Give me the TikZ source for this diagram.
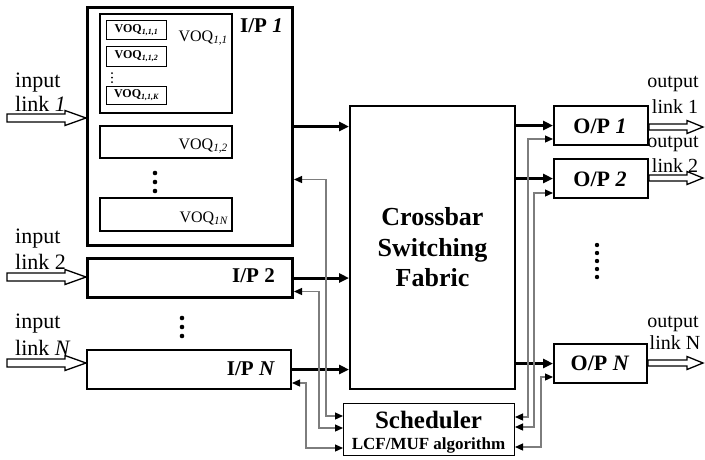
\documentclass[tikz,border=0pt]{standalone}
\usepackage{fontspec}
\setmainfont{Liberation Serif}
\usetikzlibrary{arrows.meta,calc}
\definecolor{ctlgray}{RGB}{125,125,125}

% wide hollow arrow of an external link:
% #1 start point (gives x and y), #2 point whose x is the tip,
% #3 head length, #4 shaft half-width, #5 head half-width
\newcommand\linkarrow[5]{%
  \draw[linkline] let \p1=(#1), \p2=(#2) in
    (\x1,\y1+#4) -- (\x2-#3,\y1+#4) -- (\x2-#3,\y1+#5) -- (\x2,\y1)
    -- (\x2-#3,\y1-#5) -- (\x2-#3,\y1-#4) -- (\x1,\y1-#4) -- cycle;}

\begin{document}
\begin{tikzpicture}[x=1pt,y=-1pt,
  box/.style={draw, rectangle, inner sep=0pt, anchor=north west},
  thickbox/.style={box, line width=3pt},
  midbox/.style={box, line width=2pt},
  thinbox/.style={box, line width=1pt},
  bus/.style={line width=3pt, -{Triangle[length=10pt,width=9pt]}},
  ctl/.style={ctlgray, line width=1.2pt,
    {Triangle[length=8pt,width=7pt,color=black]}-{Triangle[length=8pt,width=7pt,color=black]}},
  linkline/.style={draw=black, fill=white, line width=1.3pt, line join=miter},
  inlbl/.style={anchor=base west, inner sep=0pt, font=\fontsize{22}{26}\selectfont},
  outlbl/.style={anchor=base, inner sep=0pt, font=\fontsize{20}{24}\selectfont},
  iplbl/.style={anchor=base east, inner sep=0pt, font=\fontsize{21}{25}\selectfont\bfseries},
  oplbl/.style={anchor=base, inner sep=0pt, font=\fontsize{22}{26}\selectfont\bfseries},
  voqlbl/.style={anchor=base east, inner sep=0pt, font=\fontsize{16}{19}\selectfont},
  subvoq/.style={inner sep=0pt, font=\fontsize{12}{14}\selectfont\bfseries}]

\useasboundingbox (0,0) rectangle (705,459);

% ---------- input port 1 and its virtual output queues ----------
\node[thickbox, minimum width=205pt, minimum height=238pt] (ip1) at (86,6) {};
\node[iplbl] (ip1lbl) at (283,32) {I/P \textit{1}};

\node[midbox, minimum width=132pt, minimum height=99pt] (voq11) at (99,13) {};
\node[voqlbl] (voq11lbl) at (228,41) {VOQ\textsubscript{\itshape 1,1}};
\node[thinbox, minimum width=60pt, minimum height=19pt] (v111) at (106,20) {};
\node[subvoq] (v111lbl) at (v111.center) {VOQ\textsubscript{\itshape 1,1,1}};
\node[thinbox, minimum width=60pt, minimum height=20pt] (v112) at (106,46) {};
\node[subvoq] (v112lbl) at (v112.center) {VOQ\textsubscript{\itshape 1,1,2}};
\foreach \yy in {73,77.5,82} \fill (112,\yy) circle (1pt);
\node[thinbox, minimum width=60pt, minimum height=18pt] (v11k) at (106,86) {};
\node[subvoq] (v11klbl) at (v11k.center) {VOQ\textsubscript{\itshape 1,1,K}};

\node[midbox, minimum width=132pt, minimum height=32pt] (voq12) at (99,125) {};
\node[voqlbl] (voq12lbl) at (228,149) {VOQ\textsubscript{\itshape 1,2}};
\foreach \yy in {173,182,191} \fill (155,\yy) circle (2.3pt);
\node[midbox, minimum width=132pt, minimum height=33pt] (voq1n) at (99,197) {};
\node[voqlbl] (voq1nlbl) at (228,222) {VOQ\textsubscript{\itshape 1N}};

% ---------- input ports 2 .. N ----------
\node[thickbox, minimum width=205pt, minimum height=39pt] (ip2) at (86,257) {};
\node[iplbl] (ip2lbl) at (275,282) {I/P 2};
\foreach \yy in {318,327,336} \fill (182,\yy) circle (2.3pt);
\node[midbox, minimum width=204pt, minimum height=39pt] (ipN) at (86,349) {};
\node[iplbl] (ipNlbl) at (275,375) {I/P \textit{N}};

% ---------- switching fabric and scheduler ----------
\node[midbox, minimum width=165pt, minimum height=283pt, align=center,
      font=\fontsize{26}{30.5}\selectfont\bfseries] (xbar) at (349,105)
      {Crossbar\\Switching\\Fabric};
\node[thinbox, minimum width=171pt, minimum height=52pt] (sched) at (343,403) {};
\node[anchor=base, inner sep=0pt, font=\fontsize{25}{29}\selectfont\bfseries]
      (schedlbl) at (428.5,428) {Scheduler};
\node[anchor=base, inner sep=0pt, font=\fontsize{17}{20}\selectfont\bfseries]
      (alglbl) at (428.5,449) {LCF/MUF algorithm};

% ---------- output ports ----------
\node[midbox, minimum width=94pt, minimum height=39pt] (op1) at (553,105) {};
\node[oplbl] (op1lbl) at (600,133) {O/P \textit{1}};
\node[midbox, minimum width=94pt, minimum height=39pt] (op2) at (553,158) {};
\node[oplbl] (op2lbl) at (600,186) {O/P \textit{2}};
\foreach \yy in {245,253,261,269,277} \fill (597,\yy) circle (2.2pt);
\node[midbox, minimum width=93pt, minimum height=39pt] (opN) at (553,343) {};
\node[oplbl] (opNlbl) at (600,370) {O/P \textit{N}};

% ---------- data paths through the fabric ----------
\draw[bus] (ip1.east) -- (ip1.east -| xbar.west);
\draw[bus] (ip2.east) -- (ip2.east -| xbar.west);
\draw[bus] (ipN.east) -- (ipN.east -| xbar.west);
\draw[bus] (op1.west -| xbar.east) -- (op1.west);
\draw[bus] (op2.west -| xbar.east) -- (op2.west);
\draw[bus] (opN.west -| xbar.east) -- (opN.west);

% ---------- scheduler control lines ----------
\draw[ctl] ([yshift=-53pt]ip1.east) -- ++(32,0) |- ([yshift=-13pt]sched.north west);
\draw[ctl] ([yshift=-13.5pt]ip2.east) -- ++(25,0) |- ([yshift=-25pt]sched.north west);
\draw[ctl] ([yshift=-13.5pt]ipN.east) -- ++(14,0) |- ([yshift=-45pt]sched.north west);
\draw[ctl] ([yshift=-13.5pt]op1.west) -- ++(-25,0) |- ([yshift=-14pt]sched.north east);
\draw[ctl] ([yshift=-14.5pt]op2.west) -- ++(-19,0) |- ([yshift=-24pt]sched.north east);
\draw[ctl] ([yshift=-13.5pt]opN.west) -- ++(-12,0) |- ([yshift=-44pt]sched.north east);

% ---------- external input links ----------
\coordinate (in1) at (7,118);
\coordinate (in2) at (7,277);
\coordinate (inN) at (7,363);
\linkarrow{in1}{ip1.west}{21pt}{4pt}{7.5pt}
\linkarrow{in2}{ip2.west}{21pt}{4pt}{7.5pt}
\linkarrow{inN}{ipN.west}{21pt}{4pt}{7.5pt}
\node[inlbl] (in1a) at (15,87) {input};
\node[inlbl] (in1b) at (15,111) {link \textit{1}};
\node[inlbl] (in2a) at (15,243) {input};
\node[inlbl] (in2b) at (15,269) {link 2};
\node[inlbl] (inNa) at (15,328) {input};
\node[inlbl] (inNb) at (15,355) {link \textit{N}};

% ---------- external output links ----------
\coordinate (out1) at (703,127);
\coordinate (out2) at (703,178);
\coordinate (outN) at (703,363);
\linkarrow{op1.east |- out1}{out1}{16pt}{3pt}{6.5pt}
\linkarrow{op2.east |- out2}{out2}{16pt}{3pt}{6.5pt}
\linkarrow{opN.east |- outN}{outN}{16pt}{3pt}{6.5pt}
\node[outlbl] (out1a) at (673,87) {output};
\node[outlbl] (out1b) at (675,113) {link 1};
\node[outlbl] (out2a) at (673,147) {output};
\node[outlbl] (out2b) at (675,172) {link 2};
\node[outlbl] (outNa) at (673,327) {output};
\node[outlbl] (outNb) at (675,349) {link N};
\end{tikzpicture}
\end{document}
